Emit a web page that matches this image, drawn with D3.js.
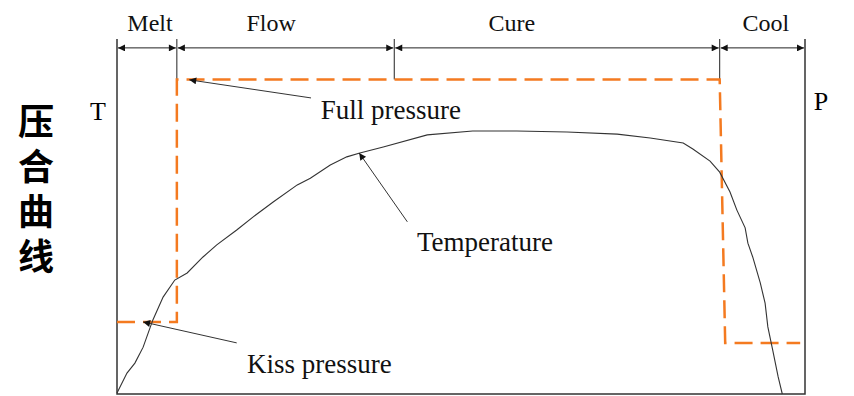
<!DOCTYPE html>
<html>
<head>
<meta charset="utf-8">
<script src="https://cdn.jsdelivr.net/npm/d3@7"></script>
<style>
  html, body { margin: 0; padding: 0; background: #fff; }
  svg { display: block; }
</style>
</head>
<body>
<div id="chart"></div>
<script>
// Pressing cycle: temperature curve + pressure steps

const width = 854, height = 396;

// phases (time in % of cycle)
const phaseNames = ["Melt", "Flow", "Cure", "Cool"];
const phaseBounds = [0, 8.7, 40.3, 87.6, 100];
const phaseLabelAt = [4.8, 22.4, 57.4, 94.3];

// temperature curve (time, % of scale)
const tempTime = [0, 1.45, 2.6, 3.8, 5.2, 6.7, 8.4, 10.2, 12.5, 14.5, 17.4, 19.8, 22.7, 26.2, 28.1, 31.0, 33.4, 35.3,
  38.7, 45.1, 51.7, 58.1, 65.4, 72.7, 77.5, 82.3, 83.7, 86.2, 87.6, 89.1, 90.1, 91.3, 91.7, 92.4, 93.5, 94.2, 94.6, 95.3, 96.1, 96.7];
const tempValue = [0.3, 5.9, 8.7, 13.2, 20.8, 27.3, 32.1, 34.1, 38.6, 42.0, 46.2, 49.9, 54.1, 58.9, 60.8, 64.5, 66.8, 67.9,
  69.6, 73.0, 74.1, 74.1, 73.8, 73.2, 72.1, 70.7, 69.0, 65.6, 62.5, 56.9, 51.8, 46.8, 42.5, 38.6, 31.3, 25.6, 18.9, 12.4, 4.8, 0];

// pressure steps
const presTime = [0, 8.7, 8.7, 87.6, 88.4, 99.3];
const presValue = [20.3, 20.3, 88.6, 88.6, 14.4, 14.4];

// callouts: label, arrow tip, arrow tail, label anchor
const noteText = ["Full pressure", "Temperature", "Kiss pressure"];
const noteTip = [[10.5, 88.5], [35.2, 67.9], [3.8, 20.3]];
const noteTail = [[28.2, 83.4], [42.2, 48.5], [17.4, 14.4]];
const noteAt = [[29.6, 77.5], [43.6, 40.3], [18.9, 5.9]];

const title = "压合曲线";

const x = d3.scaleLinear().domain([0, 100]).range([117, 805]);
const y = d3.scaleLinear().domain([0, 100]).range([394, 39]);

const svg = d3.select("#chart").append("svg")
    .attr("width", width)
    .attr("height", height);

const defs = svg.append("defs");
defs.append("marker")
    .attr("id", "head")
    .attr("viewBox", "0 0 10 10")
    .attr("refX", 10).attr("refY", 5)
    .attr("markerWidth", 9).attr("markerHeight", 7)
    .attr("markerUnits", "userSpaceOnUse")
    .attr("orient", "auto-start-reverse")
  .append("path")
    .attr("d", "M0,0L10,5L0,10z")
    .attr("fill", "#111");

const serif = "'Liberation Serif', 'Times New Roman', serif";

// frame (no top edge)
svg.append("path")
    .attr("d", `M${x(0)},${y(100)}V${y(0)}H${x(100)}V${y(100)}`)
    .attr("fill", "none")
    .attr("stroke", "#333")
    .attr("stroke-width", 1.5);

// phase dividers
svg.append("g").selectAll("line")
  .data(phaseBounds.slice(1, -1))
  .join("line")
    .attr("x1", d => x(d)).attr("x2", d => x(d))
    .attr("y1", y(100)).attr("y2", y(88.6))
    .attr("stroke", "#222")
    .attr("stroke-width", 1);

// phase arrows
const phases = phaseNames.map((n, i) => ({name: n, a: phaseBounds[i], b: phaseBounds[i + 1], at: phaseLabelAt[i]}));
svg.append("g").selectAll("line")
  .data(phases)
  .join("line")
    .attr("x1", d => x(d.a) + 1).attr("x2", d => x(d.b) - 1)
    .attr("y1", y(97.5)).attr("y2", y(97.5))
    .attr("stroke", "#222")
    .attr("stroke-width", 1)
    .attr("marker-start", "url(#head)")
    .attr("marker-end", "url(#head)");

svg.append("g").selectAll("text")
  .data(phases)
  .join("text")
    .attr("x", d => x(d.at))
    .attr("y", 31)
    .attr("text-anchor", "middle")
    .style("font", `24px ${serif}`)
    .attr("fill", "#111")
    .text(d => d.name);

// pressure
const presData = presTime.map((t, i) => [t, presValue[i]]);
svg.append("path")
    .datum(presData)
    .attr("d", d3.line().x(d => x(d[0])).y(d => y(d[1])))
    .attr("fill", "none")
    .attr("stroke", "#f47a20")
    .attr("stroke-width", 2.5)
    .attr("stroke-dasharray", "18,8");

// temperature
const tempData = tempTime.map((t, i) => [t, tempValue[i]]);
svg.append("path")
    .datum(tempData)
    .attr("d", d3.line().x(d => x(d[0])).y(d => y(d[1])))
    .attr("fill", "none")
    .attr("stroke", "#333")
    .attr("stroke-width", 1.1);

// callouts
const notes = noteText.map((t, i) => ({text: t, tip: noteTip[i], tail: noteTail[i], at: noteAt[i]}));
svg.append("g").selectAll("line")
  .data(notes)
  .join("line")
    .attr("x1", d => x(d.tail[0])).attr("y1", d => y(d.tail[1]))
    .attr("x2", d => x(d.tip[0])).attr("y2", d => y(d.tip[1]))
    .attr("stroke", "#333")
    .attr("stroke-width", 1)
    .attr("marker-end", "url(#head)");

svg.append("g").selectAll("text")
  .data(notes)
  .join("text")
    .attr("x", d => x(d.at[0]))
    .attr("y", d => y(d.at[1]))
    .style("font", `27px ${serif}`)
    .attr("fill", "#111")
    .text(d => d.text);

// axis letters
svg.append("text")
    .attr("x", 98).attr("y", 120)
    .attr("text-anchor", "middle")
    .style("font", `26px ${serif}`)
    .text("T");
svg.append("text")
    .attr("x", 821).attr("y", 110)
    .attr("text-anchor", "middle")
    .style("font", `26px ${serif}`)
    .text("P");

// vertical title
svg.append("text")
    .attr("x", 36)
    .attr("y", 103)
    .style("writing-mode", "vertical-rl")
    .style("text-orientation", "upright")
    .style("letter-spacing", "9px")
    .style("font", "bold 36px 'Noto Sans CJK SC'")
    .attr("fill", "#000")
    .text(title);
</script>
</body>
</html>
